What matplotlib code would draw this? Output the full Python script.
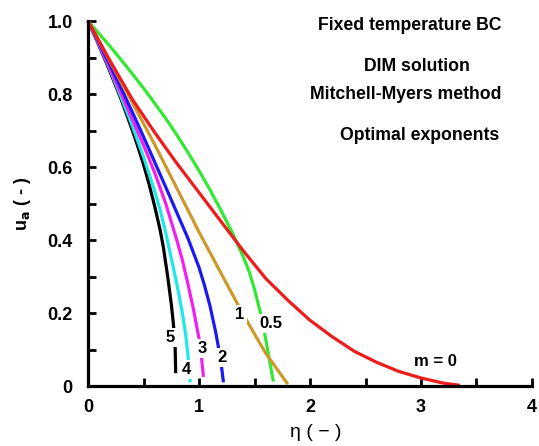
import matplotlib
matplotlib.use("Agg")
import matplotlib.pyplot as plt
import numpy as np

plt.rcParams['font.family'] = ['Liberation Sans', 'DejaVu Sans']

# ---- data ----
eta_m0 = [0, 0.2, 0.4, 0.6, 0.8, 1.0, 1.2, 1.4, 1.6, 1.8, 2.0, 2.2, 2.4, 2.6, 2.8, 3.0, 3.2, 3.35]
u_m0 = [1.0, 0.89, 0.785, 0.695, 0.61, 0.53, 0.45, 0.37, 0.295, 0.235, 0.18, 0.135, 0.095, 0.065, 0.04, 0.022, 0.008, 0.002]

eta_m05 = [0, 0.1, 0.2, 0.3, 0.4, 0.5, 0.6, 0.7, 0.8, 0.9, 1.0, 1.1, 1.2, 1.3, 1.4, 1.45, 1.5, 1.55, 1.6, 1.65, 1.67]
u_m05 = [1.0, 0.965, 0.93, 0.893, 0.855, 0.816, 0.775, 0.733, 0.688, 0.64, 0.59, 0.537, 0.48, 0.42, 0.353, 0.315, 0.265, 0.205, 0.13, 0.045, 0.012]

eta_m1 = [0, 0.2, 0.4, 0.6, 0.8, 1.0, 1.2, 1.4, 1.6, 1.8]
u_m1 = [1.0, 0.888, 0.776, 0.662, 0.542, 0.422, 0.308, 0.195, 0.09, 0.005]

eta_m2 = [0, 0.1, 0.2, 0.3, 0.4, 0.5, 0.6, 0.7, 0.8, 0.9, 1.0, 1.05, 1.1, 1.15, 1.18, 1.2, 1.22]
u_m2 = [1.0, 0.94, 0.878, 0.815, 0.75, 0.683, 0.614, 0.545, 0.475, 0.405, 0.325, 0.275, 0.218, 0.148, 0.098, 0.06, 0.01]

eta_m3 = [0, 0.1, 0.2, 0.3, 0.4, 0.5, 0.6, 0.7, 0.8, 0.85, 0.9, 0.95, 1.0, 1.02, 1.04]
u_m3 = [1.0, 0.935, 0.868, 0.8, 0.73, 0.66, 0.585, 0.5, 0.4, 0.345, 0.28, 0.21, 0.13, 0.085, 0.025]

eta_m4 = [0, 0.1, 0.2, 0.3, 0.4, 0.5, 0.6, 0.65, 0.7, 0.75, 0.8, 0.85, 0.88, 0.9, 0.92]
u_m4 = [1.0, 0.935, 0.865, 0.79, 0.712, 0.628, 0.535, 0.482, 0.42, 0.35, 0.28, 0.2, 0.14, 0.085, 0.01]

eta_m5 = [0, 0.1, 0.2, 0.3, 0.4, 0.45, 0.5, 0.55, 0.6, 0.65, 0.68, 0.72, 0.75, 0.77, 0.785, 0.79]
u_m5 = [1.0, 0.932, 0.86, 0.784, 0.7, 0.655, 0.607, 0.553, 0.493, 0.427, 0.378, 0.295, 0.225, 0.168, 0.105, 0.035]

curve_labels = ["m = 0", "0.5", "1", "2", "3", "4", "5"]
curve_colors = ["#EE1C1C", "#33E833", "#CC9A2A", "#1A1AF0", "#F020F0", "#20E8E8", "#000000"]
label_eta = [3.13, 1.65, 1.37, 1.21, 1.03, 0.89, 0.74]
label_u = [0.068, 0.17, 0.195, 0.079, 0.104, 0.044, 0.134]

x_ticks = [0, 1, 2, 3, 4]
x_ticklabels = ["0", "1", "2", "3", "4"]
y_ticks = [0, 0.2, 0.4, 0.6, 0.8, 1.0]
y_ticklabels = ["0", "0.2", "0.4", "0.6", "0.8", "1.0"]

notes = ["Fixed temperature BC", "DIM solution", "Mitchell-Myers method", "Optimal exponents"]
note_eta = [2.90, 2.96, 2.86, 2.99]
note_u = [0.989, 0.874, 0.80, 0.685]

# ---- figure ----
fig = plt.figure(figsize=(5.39, 4.46), dpi=100)
ax = fig.add_axes([0.1633, 0.1345, 0.8237, 0.8184])

curves = [(eta_m0, u_m0), (eta_m05, u_m05), (eta_m1, u_m1), (eta_m2, u_m2),
          (eta_m3, u_m3), (eta_m4, u_m4), (eta_m5, u_m5)]
order = [1, 6, 5, 4, 3, 2, 0]
for i in order:
    e, u = curves[i]
    ax.plot(e, u, color=curve_colors[i], lw=2.3, solid_capstyle='butt',
            solid_joinstyle='round', clip_on=False, zorder=2)

for lab, x, y in zip(curve_labels, label_eta, label_u):
    ax.text(x, y, lab, ha='center', va='center', fontsize=12, fontweight='bold',
            bbox=dict(facecolor='white', edgecolor='none', pad=1.5), zorder=3)

for t, x, y in zip(notes, note_eta, note_u):
    ax.text(x, y, t, ha='center', va='center', fontsize=12.7, fontweight='bold')

ax.set_xlim(0, 4)
ax.set_ylim(0, 1)
ax.set_xticks(x_ticks)
ax.set_xticklabels(x_ticklabels)
ax.set_yticks(y_ticks)
ax.set_yticklabels(y_ticklabels)
ax.set_xticks(np.arange(0, 4.01, 0.5), minor=True)
ax.set_yticks(np.arange(0, 1.01, 0.1), minor=True)

for s in ['top', 'right']:
    ax.spines[s].set_visible(False)
for s in ['left', 'bottom']:
    ax.spines[s].set_linewidth(2.3)

ax.tick_params(which='both', direction='in', width=2.0, length=6)
ax.tick_params(axis='x', which='major', pad=9, labelsize=13)
ax.tick_params(axis='y', which='major', pad=11, labelsize=13)
for lab in ax.get_xticklabels() + ax.get_yticklabels():
    lab.set_fontweight('bold')

ax.set_ylabel(r"u$_\mathbf{a}$ ( - )", fontsize=13, fontweight='bold')
ax.yaxis.set_label_coords(-0.125, 0.5)
ax.set_xlabel("η ( − )", fontsize=14)
ax.xaxis.set_label_coords(0.513, -0.105)

fig.savefig("out.png", dpi=100)
